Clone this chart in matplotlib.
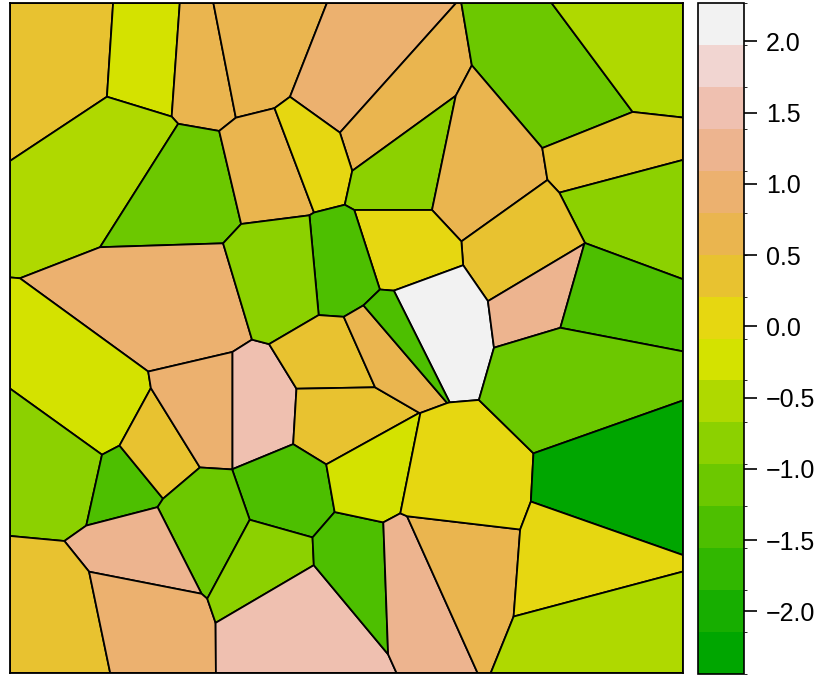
import numpy as np
import matplotlib
matplotlib.use("Agg")
import matplotlib.pyplot as plt
from matplotlib.colors import ListedColormap, BoundaryNorm
from matplotlib.cm import ScalarMappable
import colorsys

# Voronoi generator points (plot extent x 10..683, y 3..673, y grows downward)
seed_x = [71, 147, 203, 249, 343, 372, 586, 625, 124, 184, 273, 310, 401, 478, 614, 623, 523, 401, 342,
          423, 554, 582, 188, 100, 77, 122, 144, 212, 253, 288, 336, 337, 381, 395, 288, 205, 144, 62,
          134, 270, 297, 357, 373, 412, 432, 438, 572, 624, 605, 622]
seed_y = [63, 68, 72, 63, 100, 126, 90, 61, 143, 181, 160, 146, 166, 182, 160, 194, 245, 254, 273,
          314, 297, 305, 308, 429, 461, 471, 453, 411, 411, 278, 360, 416, 340, 328, 496, 525, 556, 622,
          607, 560, 606, 556, 481, 554, 545, 494, 357, 504, 558, 622]
# value attached to each cell
values = [0.31, -0.27, 0.62, 0.68, 0.93, 0.60, -1.09, -0.55, -0.50, -1.13, 0.66, 0.04, -0.84, 0.70,
          0.33, -0.79, 0.38, 0.08, -1.40, 2.27, 1.22, -1.44, 0.97, -0.21, -0.86, -1.38, 0.35, 0.91,
          1.52, -0.80, 0.37, 0.30, 0.64, -1.43, -1.36, -1.12, 1.27, 0.40, 0.88, -0.83, 1.55, -1.45,
          -0.25, 1.19, 0.69, 0.05, -1.10, -2.44, 0.09, -0.52]
tick_values = [-2.0, -1.5, -1.0, -0.5, 0.0, 0.5, 1.0, 1.5, 2.0]
tick_labels = ['\u22122.0', '\u22121.5', '\u22121.0', '\u22120.5', '0.0', '0.5', '1.0', '1.5', '2.0']
n_classes = 16


def terrain_colors(n):
    k = n // 2
    h = np.concatenate([np.linspace(4/12, 2/12, k), np.linspace(2/12, 0, n - k + 1)[1:]])
    s = np.concatenate([np.linspace(1, 1, k), np.linspace(1, 0, n - k + 1)[1:]])
    v = np.concatenate([np.linspace(0.65, 0.9, k), np.linspace(0.9, 0.95, n - k + 1)[1:]])
    return np.array([colorsys.hsv_to_rgb(*c) for c in zip(h, s, v)])


base = terrain_colors(255)
pos = np.linspace(0, 254, n_classes)
cols = np.column_stack([np.interp(pos, np.arange(255), base[:, k]) for k in range(3)])
cmap = ListedColormap(cols)
vmin, vmax = min(values), max(values)
norm = BoundaryNorm(np.linspace(vmin, vmax, n_classes + 1), n_classes)


def voronoi_cells(px, py, x0, x1, y0, y1):
    pts = np.column_stack([px, py]).astype(float)
    out = []
    for i, p in enumerate(pts):
        poly = [np.array(c, float) for c in [(x0, y0), (x1, y0), (x1, y1), (x0, y1)]]
        for j, q in enumerate(pts):
            if i == j:
                continue
            m = (p + q) / 2
            nrm = q - p
            new = []
            for k in range(len(poly)):
                P = poly[k]
                Q = poly[(k + 1) % len(poly)]
                dp = np.dot(P - m, nrm)
                dq = np.dot(Q - m, nrm)
                if dp <= 0:
                    new.append(P)
                if (dp < 0 < dq) or (dq < 0 < dp):
                    new.append(P + dp / (dp - dq) * (Q - P))
            poly = new
            if not poly:
                break
        out.append(np.array(poly))
    return out


plt.rcParams['font.family'] = ['Liberation Sans', 'DejaVu Sans']
fig = plt.figure(figsize=(8.23, 6.76), dpi=100)
ax = fig.add_axes([10/823, 3/676, 673/823, 670/676])
for poly, v in zip(voronoi_cells(seed_x, seed_y, 10, 683, 3, 673), values):
    ax.fill(poly[:, 0], poly[:, 1], facecolor=cmap(norm(v)), edgecolor='black', lw=1.3)
ax.set_xlim(10, 683)
ax.set_ylim(673, 3)
ax.set_xticks([])
ax.set_yticks([])
for s in ax.spines.values():
    s.set_linewidth(1.3)

cax = fig.add_axes([698/823, 2/676, 46/823, 671/676])
cb = fig.colorbar(ScalarMappable(norm=norm, cmap=cmap), cax=cax, ticks=tick_values)
cb.ax.set_yticklabels(tick_labels)
cb.ax.tick_params(length=9, width=1.2, labelsize=18, pad=7)
cb.outline.set_linewidth(1.2)
fig.savefig('out.png', dpi=100)
